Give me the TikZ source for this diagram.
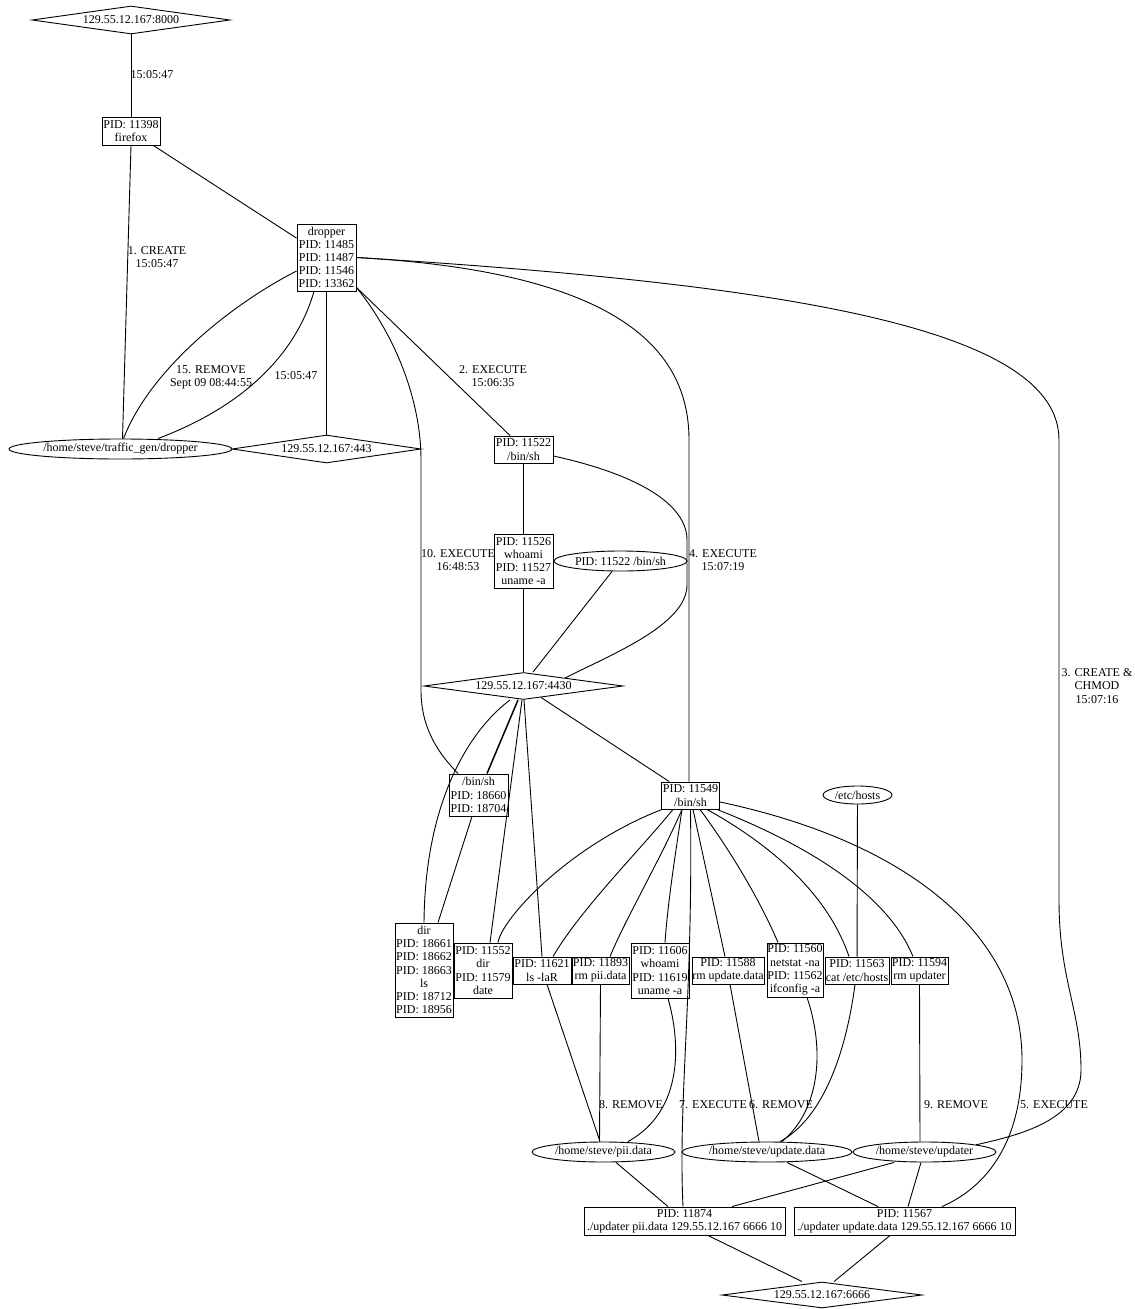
\documentclass[tikz,border=0pt]{standalone}
\usepackage{fontspec}
\setmainfont{Liberation Serif}
\usetikzlibrary{shapes.geometric}
\newcommand\mynf{\fontsize{12}{13.2}\selectfont}
\tikzset{
  box/.style={draw, rectangle, inner sep=0pt, align=center, font=\mynf, line width=0.9pt},
  ell/.style={draw, ellipse, inner sep=0pt, font=\mynf, line width=0.9pt},
  dia/.style={draw, diamond, aspect=7, inner sep=0pt, font=\mynf, line width=0.9pt},
  lab/.style={inner sep=0pt, align=center, font=\mynf},
  conn/.style={line width=0.9pt},
  dbl/.style={line width=1.5pt},
  sz/.style 2 args={minimum width=#1pt, minimum height=#2pt}
}
\begin{document}
\begin{tikzpicture}[x=1pt,y=-1pt]
\useasboundingbox (0,0) rectangle (1135,1309);
% ---- nodes
\node[dia, sz={198}{28}] (n8000) at (131,20) {129.55.12.167:8000};
\node[box, sz={58}{28}] (firefox) at (131,131) {PID: 11398\\firefox};
\node[box, sz={59}{67}] (dropper) at (326.5,257.5) {dropper\\PID: 11485\\PID: 11487\\PID: 11546\\PID: 13362};
\node[ell, sz={223}{20}] (tgd) at (120.5,449) {/home/steve/traffic\_gen/dropper};
\node[dia, sz={189}{28}] (d443) at (326.5,449) {129.55.12.167:443};
\node[box, sz={59}{27}] (s11522) at (523.5,449.5) {PID: 11522\\/bin/sh};
\node[box, sz={59}{54}] (who1) at (523.5,561) {PID: 11526\\whoami\\PID: 11527\\uname -a};
\node[ell, sz={133}{20}] (e11522) at (620.5,561) {PID: 11522 /bin/sh};
\node[dia, sz={199}{27}] (d4430) at (523.5,686) {129.55.12.167:4430};
\node[box, sz={59}{42}] (sh18660) at (478.5,795) {/bin/sh\\PID: 18660\\PID: 18704};
\node[box, sz={58}{27}] (s11549) at (690.5,795.5) {PID: 11549\\/bin/sh};
\node[ell, sz={69}{18}] (hosts) at (857.5,795) {/etc/hosts};
\node[box, sz={58}{94}] (dir) at (424,970) {dir\\PID: 18661\\PID: 18662\\PID: 18663\\ls\\PID: 18712\\PID: 18956};
\node[box, sz={58}{55}] (b11552) at (483,970.5) {PID: 11552\\dir\\PID: 11579\\date};
\node[box, sz={58}{27}] (b11621) at (542,970.5) {PID: 11621\\ls -laR};
\node[box, sz={57}{27}] (b11893) at (600.5,970.5) {PID: 11893\\rm pii.data};
\node[box, sz={58}{55}] (b11606) at (660,970.5) {PID: 11606\\whoami\\PID: 11619\\uname -a};
\node[box, sz={72}{27}] (b11588) at (728,970.5) {PID: 11588\\rm update.data};
\node[box, sz={56}{54}] (b11560) at (795,970) {PID: 11560\\netstat -na\\PID: 11562\\ifconfig -a};
\node[box, sz={64}{27}] (b11563) at (857,970.5) {PID: 11563\\cat /etc/hosts};
\node[box, sz={57}{27}] (b11594) at (919.5,970.5) {PID: 11594\\rm updater};
\node[ell, sz={143}{20}] (pii) at (603.5,1152) {/home/steve/pii.data};
\node[ell, sz={170}{20}] (upd) at (767,1152) {/home/steve/update.data};
\node[ell, sz={143}{20}] (updater) at (924.5,1152) {/home/steve/updater};
\node[box, sz={201}{28}] (b11874) at (684.5,1221) {PID: 11874\\./updater pii.data 129.55.12.167 6666 10};
\node[box, sz={221}{28}] (b11567) at (904.5,1221) {PID: 11567\\./updater update.data 129.55.12.167 6666 10};
\node[dia, sz={200}{26}] (d6666) at (822,1295) {129.55.12.167:6666};
% ---- labels
\node[lab] (l1) at (152,75) {15:05:47};
\node[lab] (l2) at (157,257) {1. CREATE\\15:05:47};
\node[lab] (l3) at (211,377) {15. REMOVE\\Sept 09 08:44:55};
\node[lab] (l4) at (296,376) {15:05:47};
\node[lab] (l5) at (493,376) {2. EXECUTE\\15:06:35};
\node[lab] (l6) at (458,560) {10. EXECUTE\\16:48:53};
\node[lab] (l7) at (723,560) {4. EXECUTE\\15:07:19};
\node[lab] (l8) at (1097,686) {3. CREATE \&\\CHMOD\\15:07:16};
\node[lab] (l9) at (631,1105) {8. REMOVE};
\node[lab] (l10) at (713,1105) {7. EXECUTE};
\node[lab] (l11) at (781,1105) {6. REMOVE};
\node[lab] (l12) at (956,1105) {9. REMOVE};
\node[lab] (l13) at (1054,1105) {5. EXECUTE};
% ---- connectors
\draw[conn] (n8000.south) -- (firefox.north);
\draw[conn] (firefox) -- (dropper);
\draw[conn] (firefox.south) -- ([xshift=2pt]tgd.north);
\draw[conn] ([yshift=-13.5pt]dropper.west) .. controls (230,305) and (150,370) .. ([xshift=3pt]tgd.north);
\draw[conn] ([xshift=-12.5pt]dropper.south) .. controls (300,340) and (260,400) .. ([xshift=37.5pt]tgd.north);
\draw[dbl] (dropper.south) -- (d443.north);
\draw[conn] ([yshift=4pt]dropper.south east) -- ([xshift=-13.5pt]s11522.north);
\draw[conn] ([yshift=4pt]dropper.south east) .. controls (395,335) and (421,400) .. (421,460) -- (421,690) .. controls (421,730) and (440,755) .. ([xshift=-20.5pt]sh18660.north);
\draw[conn] (dropper.east) .. controls (620,272) and (689,350) .. (689,440) -- ([xshift=-1.5pt]s11549.north);
\draw[conn] (dropper.east) .. controls (800,285) and (1059,330) .. (1059,440) -- (1059,900) .. controls (1059,980) and (1081,1010) .. (1081,1070) .. controls (1081,1120) and (1020,1135) .. (updater.8);
\draw[conn] (s11522) -- (who1);
\draw[conn] (who1) -- (d4430);
\draw[conn] ([xshift=-8.5pt]e11522.south) -- ([xshift=9.5pt]d4430.north);
\draw[conn] ([yshift=-6.5pt]s11522.east) .. controls (640,475) and (687,505) .. (687,540) -- (687,585) .. controls (687,625) and (610,655) .. (d4430.11);
\draw[conn] ([xshift=-13.5pt]d4430.south) .. controls (470,730) and (425,800) .. (dir.north);
\draw[dbl] ([xshift=-5.5pt]d4430.south) -- ([xshift=8.5pt]sh18660.north);
\draw[conn] ([xshift=-1.5pt]d4430.south) -- ([xshift=7pt]b11552.north);
\draw[conn] ([xshift=0.5pt]d4430.south) -- (b11621.north);
\draw[conn] (d4430) -- (s11549);
\draw[conn] ([xshift=-6.5pt]sh18660.south) -- ([xshift=14pt]dir.north);
\draw[conn] ([xshift=-28.5pt]s11549.south) .. controls (570,845) and (502,918) .. ([xshift=15pt]b11552.north);
\draw[conn] ([xshift=-17.5pt]s11549.south) .. controls (640,850) and (580,910) .. ([xshift=11pt]b11621.north);
\draw[conn] ([xshift=-8.5pt]s11549.south) .. controls (660,860) and (625,920) .. ([xshift=9.5pt]b11893.north);
\draw[conn] ([xshift=-8.5pt]s11549.south) .. controls (676,850) and (668,900) .. ([xshift=5pt]b11606.north);
\draw[conn] (s11549.south) .. controls (693,1000) and (678,1100) .. ([xshift=-1.5pt]b11874.north);
\draw[conn] ([xshift=2.5pt]s11549.south) -- ([xshift=-3pt]b11588.north);
\draw[conn] ([xshift=9.5pt]s11549.south) .. controls (730,850) and (760,900) .. ([xshift=-17pt]b11560.north);
\draw[conn] ([xshift=16.5pt]s11549.south) .. controls (780,850) and (830,900) .. ([xshift=-8pt]b11563.north);
\draw[conn] ([xshift=26.5pt]s11549.south) .. controls (820,850) and (890,900) .. ([xshift=-6.5pt]b11594.north);
\draw[conn] ([yshift=-6.5pt]s11549.east) .. controls (900,840) and (1022,930) .. (1022,1060) .. controls (1022,1150) and (980,1190) .. ([xshift=37.5pt]b11567.north);
\draw[conn] (hosts) -- (b11563);
\draw[conn] ([xshift=5pt]b11621.south) -- ([xshift=-3.5pt]pii.north);
\draw[conn] (b11893.south) -- ([xshift=-4pt]pii.north);
\draw[conn] ([xshift=8pt]b11606.south) .. controls (680,1040) and (685,1110) .. ([xshift=24.5pt]pii.north);
\draw[conn] ([xshift=2pt]b11588.south) -- ([xshift=-8pt]upd.north);
\draw[conn] ([xshift=12pt]b11560.south) .. controls (825,1050) and (820,1110) .. ([xshift=15pt]upd.north);
\draw[conn] ([xshift=-2pt]b11563.south) .. controls (845,1060) and (820,1120) .. ([xshift=13pt]upd.north);
\draw[conn] (b11594.south) -- ([xshift=-4.5pt]updater.north);
\draw[conn] ([xshift=12.5pt]pii.south) -- ([xshift=-16.5pt]b11874.north);
\draw[conn] ([xshift=-30.5pt]updater.south) -- ([xshift=47.5pt]b11874.north);
\draw[conn] ([xshift=20pt]upd.south) -- ([xshift=-26.5pt]b11567.north);
\draw[conn] ([xshift=-3.5pt]updater.south) -- ([xshift=3.5pt]b11567.north);
\draw[conn] ([xshift=23.5pt]b11874.south) -- ([xshift=-20pt]d6666.north);
\draw[conn] ([xshift=-14.5pt]b11567.south) -- ([xshift=12pt]d6666.north);
\end{tikzpicture}
\end{document}
